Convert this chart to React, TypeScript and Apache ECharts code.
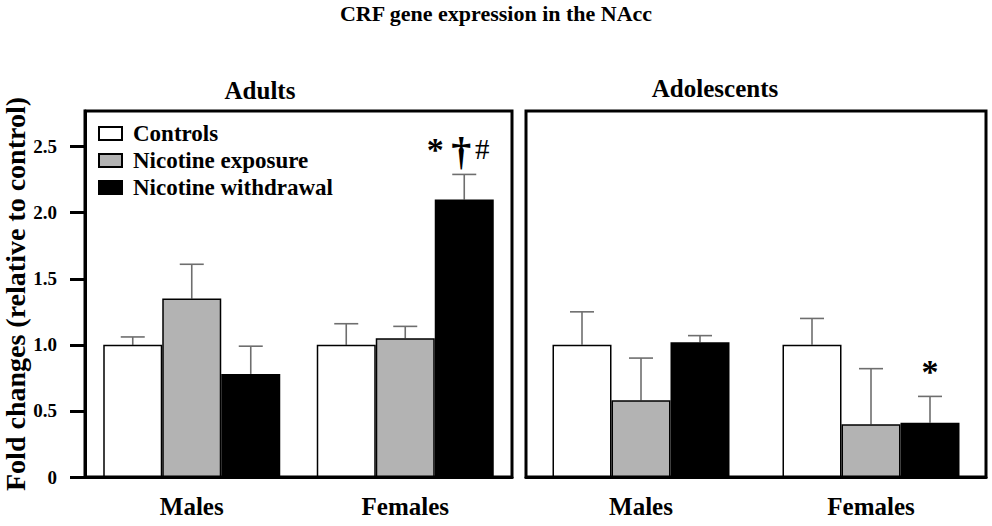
import React, { useEffect, useRef } from "react";
import * as echarts from "echarts";

const groups = ["Males", "Females"];
const seriesNames = ["Controls", "Nicotine exposure", "Nicotine withdrawal"];
const yTicks = [0, 0.5, 1.0, 1.5, 2.0, 2.5];

const adultControls = [1.0, 1.0];
const adultControlsErr = [0.06, 0.16];
const adultExposure = [1.35, 1.05];
const adultExposureErr = [0.26, 0.09];
const adultWithdrawal = [0.78, 2.1];
const adultWithdrawalErr = [0.21, 0.19];

const adolControls = [1.0, 1.0];
const adolControlsErr = [0.25, 0.2];
const adolExposure = [0.58, 0.4];
const adolExposureErr = [0.32, 0.42];
const adolWithdrawal = [1.02, 0.41];
const adolWithdrawalErr = [0.05, 0.2];

// significance marks: [group index, bar index, symbols]
const adultMarks: [number, number, string[]][] = [[1, 2, ["*", "†", "#"]]];
const adolMarks: [number, number, string[]][] = [[1, 2, ["*"]]];

const FONT = "'Liberation Serif', 'Times New Roman', serif";
const BAR_W = 59;
const colors = ["#ffffff", "#b3b3b3", "#000000"];
const Y_MAX = 2.77;

function buildBars(gridIdx: number, sets: number[][]) {
  return sets.map((vals, k) => ({
    type: "bar",
    name: seriesNames[k],
    xAxisIndex: gridIdx,
    yAxisIndex: gridIdx,
    barWidth: BAR_W,
    barGap: "0%",
    data: vals,
    itemStyle: { color: colors[k], borderColor: "#000", borderWidth: 1.5 },
    z: 2,
  }));
}

function buildErrors(gridIdx: number, means: number[][], errs: number[][]) {
  const data: number[][] = [];
  means.forEach((vals, k) =>
    vals.forEach((v, g) => data.push([g, v, errs[k][g], k]))
  );
  return {
    type: "custom",
    xAxisIndex: gridIdx,
    yAxisIndex: gridIdx,
    clip: false,
    silent: true,
    z: 1,
    data,
    renderItem: (params: any, api: any) => {
      const g = api.value(0);
      const v = api.value(1);
      const e = api.value(2);
      const k = api.value(3);
      const base = api.coord([g, v]);
      const top = api.coord([g, v + e]);
      const x = base[0] + (k - 1) * BAR_W;
      const style = { stroke: "#6e6e6e", lineWidth: 1.6 };
      return {
        type: "group",
        children: [
          { type: "line", shape: { x1: x, y1: base[1], x2: x, y2: top[1] }, style },
          { type: "line", shape: { x1: x - 12, y1: top[1], x2: x + 12, y2: top[1] }, style },
        ],
      };
    },
  };
}

function buildMarks(
  gridIdx: number,
  marks: [number, number, string[]][],
  means: number[][],
  errs: number[][]
) {
  return {
    type: "custom",
    xAxisIndex: gridIdx,
    yAxisIndex: gridIdx,
    clip: false,
    silent: true,
    z: 3,
    data: marks.map(([g, k]) => [g, means[k][g] + errs[k][g], k]),
    renderItem: (params: any, api: any) => {
      const g = api.value(0);
      const t = api.value(1);
      const k = api.value(2);
      const p = api.coord([g, t]);
      const x = p[0] + (k - 1) * BAR_W;
      const syms = marks[params.dataIndex][2];
      if (syms.length === 1) {
        return {
          type: "text",
          style: {
            text: syms[0],
            x,
            y: p[1] - 25,
            font: `bold 34px ${FONT}`,
            fill: "#000",
            align: "center",
            verticalAlign: "middle",
          },
        };
      }
      const offs = [-29, -3, 18];
      const fonts = [`bold 34px ${FONT}`, `bold 40px ${FONT}`, `29px ${FONT}`];
      const dy = [-25, -23, -25];
      return {
        type: "group",
        children: syms.map((s, i) => ({
          type: "text",
          style: {
            text: s,
            x: x + offs[i],
            y: p[1] + dy[i],
            font: fonts[i],
            fill: "#000",
            align: "center",
            verticalAlign: "middle",
          },
        })),
      };
    },
  };
}

export default function App() {
  const ref = useRef<HTMLDivElement>(null);
  useEffect(() => {
    if (!ref.current) return;
    const chart = echarts.init(ref.current, null, { renderer: "svg" });
    const adultMeans = [adultControls, adultExposure, adultWithdrawal];
    const adultErrs = [adultControlsErr, adultExposureErr, adultWithdrawalErr];
    const adolMeans = [adolControls, adolExposure, adolWithdrawal];
    const adolErrs = [adolControlsErr, adolExposureErr, adolWithdrawalErr];

    const xAxisCommon = {
      type: "category",
      data: groups,
      axisLine: { lineStyle: { color: "#000", width: 3 } },
      axisTick: { alignWithLabel: true, length: 13, lineStyle: { color: "#000", width: 3 } },
      axisLabel: { color: "#000", fontFamily: FONT, fontWeight: "bold", fontSize: 25, margin: 17 },
    };

    chart.setOption({
      animation: false,
      backgroundColor: "#fff",
      title: [
        {
          text: "CRF gene expression in the NAcc",
          left: "center",
          top: 2,
          padding: 0,
          textStyle: { fontFamily: FONT, fontWeight: "bold", fontSize: 22, color: "#000" },
        },
        {
          text: "Adults",
          left: 260,
          top: 78,
          padding: 0,
          textAlign: "center",
          textStyle: { fontFamily: FONT, fontWeight: "bold", fontSize: 25, color: "#000" },
        },
        {
          text: "Adolescents",
          left: 715,
          top: 76,
          padding: 0,
          textAlign: "center",
          textStyle: { fontFamily: FONT, fontWeight: "bold", fontSize: 25, color: "#000" },
        },
      ],
      legend: {
        orient: "vertical",
        left: 98,
        top: 122,
        padding: 0,
        itemWidth: 23,
        itemHeight: 13,
        itemGap: 4,
        icon: "rect",
        data: seriesNames,
        textStyle: {
          fontFamily: FONT,
          fontWeight: "bold",
          fontSize: 23,
          color: "#000",
          padding: [0, 0, 0, 6],
        },
      },
      grid: [
        { left: 84, right: 480, top: 111, bottom: 49, show: true, borderColor: "#000", borderWidth: 3, containLabel: false },
        { left: 526, right: 6, top: 111, bottom: 49, show: true, borderColor: "#000", borderWidth: 3, containLabel: false },
      ],
      xAxis: [
        { ...xAxisCommon, gridIndex: 0 },
        { ...xAxisCommon, gridIndex: 1 },
      ],
      yAxis: [
        {
          type: "value",
          gridIndex: 0,
          min: 0,
          max: Y_MAX,
          splitLine: { show: false },
          axisLine: { show: true, lineStyle: { color: "#000", width: 3 } },
          axisTick: { show: true, length: 15, customValues: yTicks, lineStyle: { color: "#000", width: 3 } },
          axisLabel: {
            customValues: yTicks,
            color: "#000",
            fontFamily: FONT,
            fontWeight: "bold",
            fontSize: 19,
            margin: 28,
            formatter: (v: number) => (v === 0 ? "0" : v.toFixed(1)),
          },
          name: "Fold changes (relative to control)",
          nameLocation: "middle",
          nameGap: 56,
          nameTextStyle: { fontFamily: FONT, fontWeight: "bold", fontSize: 28, color: "#000" },
        },
        {
          type: "value",
          gridIndex: 1,
          min: 0,
          max: Y_MAX,
          show: false,
          splitLine: { show: false },
        },
      ],
      series: [
        ...buildBars(0, adultMeans),
        ...buildBars(1, adolMeans),
        buildErrors(0, adultMeans, adultErrs),
        buildErrors(1, adolMeans, adolErrs),
        buildMarks(0, adultMarks, adultMeans, adultErrs),
        buildMarks(1, adolMarks, adolMeans, adolErrs),
      ],
    });
    return () => chart.dispose();
  }, []);
  return (
    <div
      ref={ref}
      style={{ position: "fixed", left: 0, top: 0, width: 992, height: 526, background: "#fff" }}
    />
  );
}
